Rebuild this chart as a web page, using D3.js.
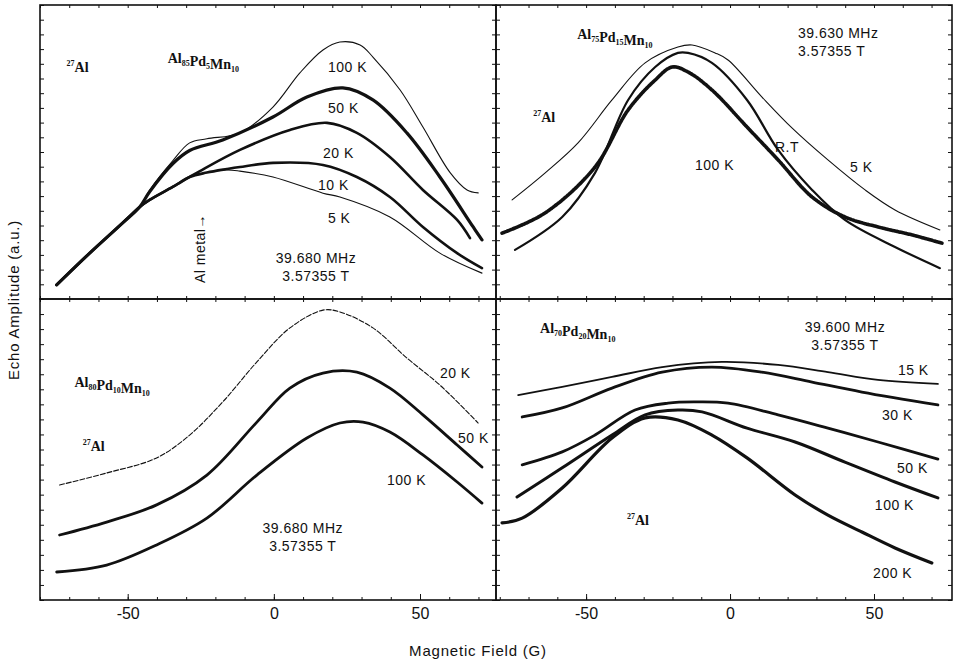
<!DOCTYPE html>
<html lang="en">
  <head>
    <meta charset="UTF-8" />
    <title>27Al echo amplitude vs magnetic field</title>
    <style>
      body { margin: 0; background: #fff; }
      svg text { fill: #111; }
      .lbl { font: 14px "Liberation Sans", Arial, sans-serif; letter-spacing: 0.5px; }
      .serif { font: bold 14px "Liberation Serif", "Times New Roman", serif; }
      .tick text { font: 16px "Liberation Sans", Arial, sans-serif; }
      .axis-title { font: 15px "Liberation Sans", Arial, sans-serif; letter-spacing: 0.8px; }
    </style>
    <script src="https://d3js.org/d3.v7.min.js"></script>
  </head>
  <body>
    <script>
      // field ticks (G)
      const fieldTicks = [-50, 0, 50];

      // ---- Al85Pd5Mn10, 39.680 MHz : [field (G), amplitude]
      const a85_5K = [[-74.3,4.8],[-63,15.6],[-51.7,25.9],[-45.9,31.3],[-42.5,33.7],[-34.6,38.1],[-28.8,41.5],[-22.9,43],[-16.1,43.9],[-11.6,43.5],[-0.3,41.5],[16.8,36],[22.6,34.7],[39.7,27.9],[56.8,15.6],[71.2,8.8]];
      const a85_10K = [[-74.3,4.8],[-63,15.6],[-51.7,25.9],[-45.9,31.3],[-42.5,33.7],[-34.6,38.1],[-28.8,41.5],[-22.9,43],[-16.1,44.2],[-11.6,44.9],[-0.3,46.3],[16.8,45.6],[28.4,41.5],[39.7,34.7],[51,24.5],[62.7,15.6],[71.2,10.5]];
      const a85_20K = [[-74.3,4.8],[-63,15.6],[-51.7,25.9],[-45.9,31.3],[-42.5,33.7],[-34.6,38.1],[-28.8,41.5],[-25.3,43.5],[-11.6,50.7],[5.5,57.5],[18.2,59.9],[28.4,56.5],[39.7,48.3],[51,37.1],[62.7,26.9],[67.1,20.7]];
      const a85_50K = [[-74.3,4.8],[-63,15.6],[-51.7,25.9],[-45.9,31.3],[-42.5,36.5],[-34.6,46],[-28.8,50.5],[-17.5,54.1],[-0.3,61.9],[11.3,68.7],[23.6,71.8],[33.9,67.7],[45.5,56.5],[56.8,41.5],[68.2,24.5],[71.2,20.1]];
      const a85_100K = [[-74.3,4.8],[-63,15.6],[-51.7,25.9],[-45.9,31.3],[-42.5,37],[-34.6,47],[-28.8,53.1],[-22.9,54.5],[-11.6,56.5],[-0.3,65.3],[8.9,76.9],[16.8,84.7],[22.6,87.4],[29.5,86.4],[33.9,82.3],[43.2,71.1],[51,58.5],[60.3,43],[66.1,37.1],[69.9,36.1]];

      // ---- Al75Pd15Mn10, 39.630 MHz
      const a75_5K = [[-75.7,33.7],[-64.2,42.9],[-52.8,53.1],[-41,67.7],[-29.5,80.3],[-18.1,85.7],[-13.2,86.4],[-5.2,83.7],[-0.7,81.3],[11.1,68.7],[21.5,58.2],[34,47.3],[46.9,37.1],[57.3,30.3],[72.9,23.5]];
      const a75_RT = [[-74.7,16.7],[-58.3,27.9],[-46.9,42.9],[-35.4,67.7],[-26,78.9],[-18.1,83.7],[-14.6,83.7],[-6.3,80.3],[5.9,67.7],[16.7,50.7],[28.5,37.1],[39.9,26.9],[57.3,17.7],[72.9,10.5]];
      const a75_100K = [[-79.2,22.4],[-64.2,29.3],[-46.9,44.9],[-35.4,64.3],[-26,74.5],[-20.1,78.9],[-14.6,77.2],[-6.3,71.1],[5.9,58.5],[16.7,47.3],[28.5,34.7],[39.9,27.9],[51.4,24.5],[63.2,21.8],[73.6,19]];

      // ---- Al80Pd10Mn10, 39.680 MHz
      const a80_20K = [[-73.3,38.2],[-57.2,42.2],[-40.1,47.2],[-28.8,54.8],[-17.5,65.8],[-5.8,79.1],[5.5,90.4],[16.8,96.3],[22.6,95.7],[33.9,90.4],[45.5,80.4],[56.8,71.4],[69.9,58.8]];
      const a80_50K = [[-73.3,21.6],[-57.2,25.9],[-40.1,31.6],[-22.9,41.5],[-5.8,59.1],[5.5,70.4],[16.8,75.4],[28.4,75.7],[39.7,70.4],[51,61.5],[62.7,51.5],[71.2,44.2]];
      const a80_100K = [[-74.3,9.3],[-57.2,11.6],[-40.1,18.3],[-22.9,27.2],[-5.8,41.5],[11.3,53.8],[22.6,58.8],[30.5,59.1],[39.7,55.8],[51,48.2],[62.7,39.2],[71.2,32.2]];

      // ---- Al70Pd20Mn10, 39.600 MHz
      const a70_15K = [[-73.6,68.1],[-58.3,70.8],[-41,74.1],[-23.6,77.4],[-2.8,79.1],[16.7,78.1],[34,75.7],[51.4,73.1],[72.2,71.8]];
      const a70_30K = [[-72.2,60.8],[-58.3,63.8],[-41,70.4],[-23.6,75.7],[-6.3,77.4],[11.1,75.7],[28.5,72.4],[45.8,69.1],[72.2,64.8]];
      const a70_50K = [[-72.2,44.9],[-58.3,49.2],[-46.9,54.8],[-33,63.1],[-21.5,65.4],[-12.2,65.8],[-0.7,65.4],[16.7,61.5],[34,57.1],[51.4,52.5],[72.2,46.8]];
      const a70_100K = [[-74,34.2],[-58.3,43.9],[-41,54.8],[-29.5,61.5],[-18.1,63.1],[-9.7,62.5],[5.9,57.1],[22.6,52.5],[39.9,45.8],[57.3,39.2],[72.2,33.9]];
      const a70_200K = [[-79.2,25.6],[-72.2,27.2],[-58.3,37.2],[-41,53.8],[-29.5,60.5],[-18.1,59.8],[-6.3,54.8],[5.9,47.2],[22.6,34.9],[34,28.2],[45.8,22.6],[57.3,17.3],[70.1,12.3]];

      const svg = d3.select("body").append("svg")
        .attr("width", 957).attr("height", 664);

      const xLeft = d3.scaleLinear().domain([-80, 76]).range([40, 496]);
      const xRight = d3.scaleLinear().domain([-81.3, 77.1]).range([496, 952]);
      const yTop = d3.scaleLinear().domain([0, 100]).range([299, 5]);
      const yBot = d3.scaleLinear().domain([0, 100]).range([600, 299]);

      const panels = [
        {
          x: xLeft, y: yTop, bottom: false,
          formula: [["Al", "85"], ["Pd", "5"], ["Mn", "10"]], formulaAt: [-36.3, 80.3],
          nucleus: [-70.9, 77.2],
          freq: { text: ["39.680 MHz", "3.57355 T"], at: [14.4, 12.2], anchor: "middle" },
          curves: [
            { d: a85_5K, w: 1.1 }, { d: a85_10K, w: 2.6 }, { d: a85_20K, w: 2.6 },
            { d: a85_50K, w: 3.2 }, { d: a85_100K, w: 1.1 },
          ],
          labels: [["100 K", 18.5, 77.2], ["50 K", 18.5, 63.3], ["20 K", 16.8, 48], ["10 K", 15.1, 37.1], ["5 K", 18.5, 25.9]],
        },
        {
          x: xRight, y: yTop, bottom: false,
          formula: [["Al", "75"], ["Pd", "15"], ["Mn", "10"]], formulaAt: [-53.1, 88.4],
          nucleus: [-68.4, 60.2],
          freq: { text: ["39.630 MHz", "3.57355 T"], at: [23.6, 88.8], anchor: "start" },
          curves: [
            { d: a75_5K, w: 1.1 }, { d: a75_RT, w: 2.2 }, { d: a75_100K, w: 3.6, dash: "2,1" },
          ],
          labels: [["100 K", -12.2, 43.9], ["R.T", 15.6, 50], ["5 K", 41.7, 43.2]],
        },
        {
          x: xLeft, y: yBot, bottom: true,
          formula: [["Al", "80"], ["Pd", "10"], ["Mn", "10"]], formulaAt: [-68.2, 70.8],
          nucleus: [-65.4, 49.5],
          freq: { text: ["39.680 MHz", "3.57355 T"], at: [9.9, 22.3], anchor: "middle" },
          curves: [
            { d: a80_20K, w: 1.1, dash: "5,2" }, { d: a80_50K, w: 2.8 }, { d: a80_100K, w: 2.8 },
          ],
          labels: [["20 K", 56.8, 73.8], ["50 K", 63, 52.2], ["100 K", 38.7, 38.2]],
        },
        {
          x: xRight, y: yBot, bottom: true,
          formula: [["Al", "70"], ["Pd", "20"], ["Mn", "10"]], formulaAt: [-66, 88.7],
          nucleus: [-35.8, 24.9],
          freq: { text: ["39.600 MHz", "3.57355 T"], at: [39.9, 89], anchor: "middle" },
          curves: [
            { d: a70_15K, w: 1.8 }, { d: a70_30K, w: 2.8 }, { d: a70_50K, w: 2.8 },
            { d: a70_100K, w: 3 }, { d: a70_200K, w: 3.2 },
          ],
          labels: [["15 K", 58.3, 74.8], ["30 K", 52.8, 59.8], ["50 K", 58, 42.2], ["100 K", 50.3, 29.9], ["200 K", 49.7, 7.3]],
        },
      ];

      panels.forEach((p) => {
        const [x0, x1] = p.x.range();
        const [y1, y0] = p.y.range();
        const g = svg.append("g");

        // minor ticks on all four edges
        const minor = d3.range(-80, 80, 10);
        const amp = d3.range(0, 101, 5);
        g.append("g").attr("transform", `translate(0,${y1})`)
          .call(d3.axisBottom(p.x).tickValues(minor).tickSize(-3).tickFormat(""));
        g.append("g").attr("transform", `translate(0,${y0})`)
          .call(d3.axisTop(p.x).tickValues(minor).tickSize(-3).tickFormat(""));
        g.append("g").attr("transform", `translate(${x0},0)`)
          .call(d3.axisLeft(p.y).tickValues(amp).tickSize(-4).tickFormat(""));
        g.append("g").attr("transform", `translate(${x1},0)`)
          .call(d3.axisRight(p.y).tickValues(amp).tickSize(-4).tickFormat(""));

        if (p.bottom) {
          g.append("g").attr("transform", `translate(0,${y1})`)
            .call(d3.axisBottom(p.x).tickValues(fieldTicks).tickSize(-6).tickPadding(8)
              .tickFormat((d) => String(d)));
        }
        g.selectAll(".domain").remove();
        g.selectAll(".tick line").attr("stroke", "#111");

        g.append("rect")
          .attr("x", x0).attr("y", y0)
          .attr("width", x1 - x0).attr("height", y1 - y0)
          .attr("fill", "none").attr("stroke", "#111").attr("stroke-width", 1.6);

        const line = d3.line()
          .x((d) => p.x(d[0])).y((d) => p.y(d[1]))
          .curve(d3.curveCatmullRom.alpha(0.5));

        p.curves.forEach((c) => {
          g.append("path")
            .datum(c.d)
            .attr("d", line)
            .attr("fill", "none")
            .attr("stroke", "#111")
            .attr("stroke-width", c.w)
            .attr("stroke-linecap", "round")
            .attr("stroke-linejoin", "round")
            .attr("stroke-dasharray", c.dash || null);
        });

        p.labels.forEach(([t, fx, fy]) => {
          g.append("text").attr("class", "lbl")
            .attr("x", p.x(fx)).attr("y", p.y(fy)).text(t);
        });

        p.freq.text.forEach((t, i) => {
          g.append("text").attr("class", "lbl")
            .attr("text-anchor", p.freq.anchor)
            .attr("x", p.x(p.freq.at[0]))
            .attr("y", p.y(p.freq.at[1]) + i * 18)
            .text(t);
        });

        const f = g.append("text").attr("class", "serif")
          .attr("x", p.x(p.formulaAt[0])).attr("y", p.y(p.formulaAt[1]));
        p.formula.forEach(([el, n]) => {
          f.append("tspan").text(el);
          f.append("tspan").attr("font-size", "8px").attr("dy", 3).text(n);
          f.append("tspan").attr("dy", -3).text("");
        });

        const nu = g.append("text").attr("class", "serif")
          .attr("x", p.x(p.nucleus[0])).attr("y", p.y(p.nucleus[1]));
        nu.append("tspan").attr("font-size", "8px").attr("dy", -6).text("27");
        nu.append("tspan").attr("dy", 6).text("Al");
      });

      // "Al metal" marker in the first panel
      const am = [-23.6, 5.4];
      svg.append("text").attr("class", "lbl")
        .attr("transform", `translate(${xLeft(am[0])},${yTop(am[1])}) rotate(-90)`)
        .text("Al metal\u2192");

      svg.append("text").attr("class", "axis-title")
        .attr("x", 478).attr("y", 656).attr("text-anchor", "middle")
        .text("Magnetic Field (G)");

      svg.append("text").attr("class", "axis-title")
        .attr("transform", "translate(19,300) rotate(-90)")
        .attr("text-anchor", "middle")
        .text("Echo Amplitude (a.u.)");
    </script>
  </body>
</html>
